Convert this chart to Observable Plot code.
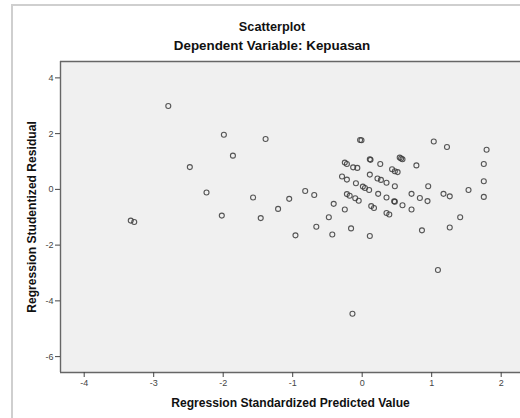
<!DOCTYPE html>
<html>
<head>
<meta charset="utf-8">
<script src="https://cdn.jsdelivr.net/npm/d3@7"></script>
<script src="https://cdn.jsdelivr.net/npm/@observablehq/plot@0.6"></script>
<style>
  html, body { margin: 0; padding: 0; background: #fff; overflow: hidden; }
  #wrap { position: relative; width: 520px; height: 418px; overflow: hidden; font-family: "Liberation Sans", Arial, sans-serif; }
  #outer { position: absolute; left: 10.5px; top: 4px; width: 600px; height: 500px; border-left: 2px solid #cfcfcf; border-top: 2px solid #cfcfcf; }
  .t { position: absolute; left: 0; width: 544px; text-align: center; font-weight: bold; color: #111; }
  #chart { position: absolute; left: 0; top: 0; }
</style>
</head>
<body>
<div id="wrap">
  <div id="outer"></div>
  <div id="chart"></div>
  <div class="t" style="top:20px; font-size:12.7px">Scatterplot</div>
  <div class="t" style="top:37.5px; font-size:13.4px">Dependent Variable: Kepuasan</div>
</div>
<script>
// Regression Standardized Predicted Value
const predicted = [
  -2.79, -2.48, -2.24, -3.33, -3.28, -2.02, -1.99, -1.39, -1.86, -1.57,
  -1.46, -1.21, -1.05, -0.82, -0.69, -0.96, -0.66, -0.48, -0.43, -0.41,
  -0.25, -0.16, -0.25, -0.22, -0.13, -0.07, -0.29, -0.22, -0.09, -0.22,
  -0.18, -0.10, -0.05, -0.03, -0.01, 1.03, 1.22, 1.79, 0.11, 0.12,
  0.26, 0.54, 0.56, 0.58, 0.78, 0.43, 0.47, 0.51, 0.11, 0.22,
  0.27, 0.35, 0.47, 0.95, 0.01, 0.04, 0.10, 1.53, 1.75, 1.75,
  1.75, 1.17, 1.26, 0.71, 0.83, 0.94, 0.23, 0.35, 0.46, 0.47,
  0.58, 0.71, 0.13, 0.17, 0.35, 0.39, 1.41, 1.26, 0.86, 0.11,
  -0.14, 1.09
];
// Regression Studentized Residual
const residual = [
  2.99, 0.80, -0.11, -1.12, -1.17, -0.94, 1.96, 1.81, 1.21, -0.29,
  -1.03, -0.70, -0.34, -0.06, -0.20, -1.65, -1.34, -1.00, -1.62, -0.52,
  -0.72, -1.40, 0.96, 0.91, 0.79, 0.77, 0.46, 0.35, 0.22, -0.17,
  -0.23, -0.32, -0.41, 1.77, 1.76, 1.72, 1.52, 1.42, 1.08, 1.06,
  0.91, 1.14, 1.11, 1.08, 0.86, 0.72, 0.65, 0.62, 0.53, 0.39,
  0.34, 0.24, 0.11, 0.11, 0.10, 0.05, -0.02, -0.02, 0.91, 0.29,
  -0.27, -0.16, -0.25, -0.16, -0.31, -0.42, -0.16, -0.29, -0.43, -0.44,
  -0.57, -0.72, -0.60, -0.67, -0.85, -0.90, -1.00, -1.37, -1.47, -1.67,
  -4.46, -2.89
];
const xTicks = [-4, -3, -2, -1, 0, 1, 2];
const yTicks = [-6, -4, -2, 0, 2, 4];
const xLabel = "Regression Standardized Predicted Value";
const yLabel = "Regression Studentized Residual";

const points = predicted.map((p, i) => ({ p, r: residual[i] }));
const xDomain = [-4.341, 2.278];
const yDomain = [-6.57, 4.588];

const chart = Plot.plot({
  width: 520,
  height: 418,
  marginLeft: 60,
  marginRight: 0,
  marginTop: 61,
  marginBottom: 46,
  style: { fontFamily: "'Liberation Sans', Arial, sans-serif", fontSize: "9px", color: "#444", background: "transparent", overflow: "visible" },
  x: { domain: xDomain },
  y: { domain: yDomain },
  marks: [
    Plot.frame({ fill: "#f0f0f0", stroke: null }),
    Plot.ruleY([yDomain[1]], { stroke: "#666", strokeWidth: 1.4 }),
    Plot.ruleY([yDomain[0]], { stroke: "#666", strokeWidth: 1.4 }),
    Plot.ruleX([xDomain[0]], { stroke: "#666", strokeWidth: 1.4 }),
    Plot.axisX({ ticks: xTicks, tickSize: 5, tickPadding: 2, label: null, tickFormat: d => String(d) }),
    Plot.axisY({ ticks: yTicks, tickSize: 5, tickPadding: 2, label: null, tickFormat: d => String(d) }),
    Plot.dot(points, { x: "p", y: "r", r: 2.5, stroke: "#3a3a3a", strokeOpacity: 0.85, strokeWidth: 1.1, fill: "none" }),
    Plot.text([xLabel], { frameAnchor: "bottom", dy: 31, fontSize: 12.1, fontWeight: "bold", fill: "#111", lineAnchor: "middle" }),
    Plot.text([yLabel], { frameAnchor: "left", dx: -28.5, rotate: -90, fontSize: 12.1, fontWeight: "bold", fill: "#111", lineAnchor: "middle", textAnchor: "middle" })
  ]
});
document.getElementById("chart").appendChild(chart);
</script>
</body>
</html>
